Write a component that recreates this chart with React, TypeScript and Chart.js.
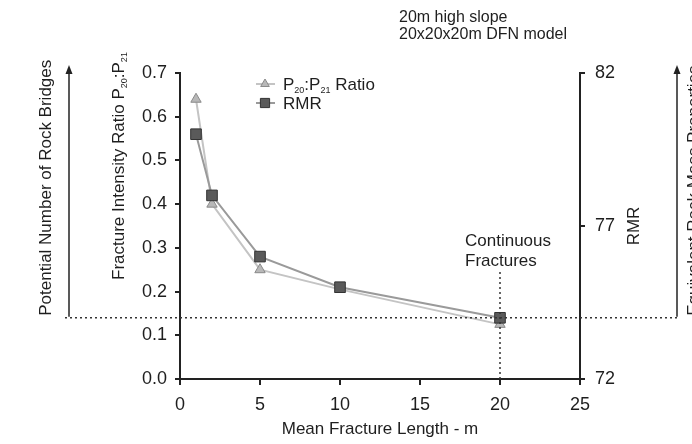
import React, { useEffect, useRef } from "react";
import { Chart, registerables } from "chart.js";

Chart.register(...registerables);

// ---- data ----
const fractureLengths = [1, 2, 5, 10, 20];
const p20p21Ratio = [0.64, 0.4, 0.25, 0.205, 0.125];
const rmrValues = [80.0, 78.0, 76.0, 75.0, 74.0];
const xTickValues = [0, 5, 10, 15, 20, 25];
const ratioTickValues = [0, 0.1, 0.2, 0.3, 0.4, 0.5, 0.6, 0.7];
const rmrTickValues = [72, 77, 82];
const continuousLength = 20;
const continuousRmr = 74;
const noteLines = ["20m high slope", "20x20x20m DFN model"];
const continuousLabel = ["Continuous", "Fractures"];
const xTitle = "Mean Fracture Length - m";
const leftOuterTitle = "Potential Number of Rock Bridges";
const rightOuterTitle = "Equivalent Rock Mass Properties";
const rmrTitle = "RMR";

type Part = { t: string; sub?: boolean };
const ratioTitleParts: Part[] = [
  { t: "Fracture Intensity Ratio P" },
  { t: "20", sub: true },
  { t: ":P" },
  { t: "21", sub: true },
];
const ratioLegendParts: Part[] = [
  { t: "P" },
  { t: "20", sub: true },
  { t: ":P" },
  { t: "21", sub: true },
  { t: " Ratio" },
];

const FONT = "'Liberation Sans', Arial, sans-serif";
const TEXT = "#1e1e1e";
const AXIS = "#222222";

function font(size: number) {
  return `${size}px ${FONT}`;
}

function drawRich(ctx: CanvasRenderingContext2D, parts: Part[], x: number, y: number, size: number, subSize: number, subShift: number) {
  let cx = x;
  ctx.textAlign = "left";
  ctx.textBaseline = "alphabetic";
  for (const p of parts) {
    ctx.font = font(p.sub ? subSize : size);
    ctx.fillText(p.t, cx, y + (p.sub ? subShift : 0));
    cx += ctx.measureText(p.t).width;
  }
}

function arrow(ctx: CanvasRenderingContext2D, x: number, yBottom: number, yTop: number) {
  ctx.save();
  ctx.strokeStyle = AXIS;
  ctx.fillStyle = AXIS;
  ctx.lineWidth = 1.5;
  ctx.beginPath();
  ctx.moveTo(x, yBottom);
  ctx.lineTo(x, yTop + 6);
  ctx.stroke();
  ctx.beginPath();
  ctx.moveTo(x, yTop);
  ctx.lineTo(x - 3.5, yTop + 9);
  ctx.lineTo(x + 3.5, yTop + 9);
  ctx.closePath();
  ctx.fill();
  ctx.restore();
}

function drawMarker(ctx: CanvasRenderingContext2D, style: string, r: number, x: number, y: number) {
  ctx.beginPath();
  if (style === "triangle") {
    ctx.moveTo(x, y - r);
    ctx.lineTo(x + r * 0.866, y + r * 0.5);
    ctx.lineTo(x - r * 0.866, y + r * 0.5);
    ctx.closePath();
  } else {
    const s = r * Math.SQRT1_2;
    ctx.rect(x - s, y - s, 2 * s, 2 * s);
  }
  ctx.fill();
  ctx.stroke();
}

const leftArrowX = 69;
const rightArrowX = 677;

const annotations = {
  id: "annotations",
  afterDatasetsDraw(chart: any) {
    const { ctx, chartArea, scales } = chart;
    const yThr = scales.y2.getPixelForValue(continuousRmr);
    const xCont = scales.x.getPixelForValue(continuousLength);
    ctx.save();
    ctx.strokeStyle = "#333";
    ctx.lineWidth = 1.5;
    ctx.setLineDash([2, 3]);
    ctx.beginPath();
    ctx.moveTo(leftArrowX - 4, yThr);
    ctx.lineTo(rightArrowX, yThr);
    ctx.stroke();
    ctx.beginPath();
    ctx.moveTo(xCont, chartArea.bottom);
    ctx.lineTo(xCont, chartArea.top + 197);
    ctx.stroke();
    ctx.setLineDash([]);
    ctx.restore();
  },
  afterDraw(chart: any) {
    const { ctx, chartArea, scales } = chart;
    const yThr = scales.y2.getPixelForValue(continuousRmr);
    const xCont = scales.x.getPixelForValue(continuousLength);
    const arrowTop = chartArea.top - 8;

    ctx.save();
    arrow(ctx, leftArrowX, yThr - 1, arrowTop);
    arrow(ctx, rightArrowX, yThr - 1, arrowTop);

    ctx.fillStyle = TEXT;

    ctx.save();
    ctx.translate(51, yThr - 2);
    ctx.rotate(-Math.PI / 2);
    ctx.font = font(17);
    ctx.textAlign = "left";
    ctx.textBaseline = "alphabetic";
    ctx.fillText(leftOuterTitle, 0, 0);
    ctx.restore();

    ctx.save();
    ctx.translate(699, yThr - 2);
    ctx.rotate(-Math.PI / 2);
    ctx.font = font(17);
    ctx.textAlign = "left";
    ctx.textBaseline = "alphabetic";
    ctx.fillText(rightOuterTitle, 0, 0);
    ctx.restore();

    ctx.save();
    ctx.translate(124, 280);
    ctx.rotate(-Math.PI / 2);
    drawRich(ctx, ratioTitleParts, 0, 0, 17, 9, 3);
    ctx.restore();

    ctx.save();
    ctx.translate(639, (chartArea.top + chartArea.bottom) / 2);
    ctx.rotate(-Math.PI / 2);
    ctx.font = font(17);
    ctx.textAlign = "center";
    ctx.textBaseline = "alphabetic";
    ctx.fillText(rmrTitle, 0, 0);
    ctx.restore();

    ctx.font = font(16);
    ctx.textAlign = "left";
    ctx.textBaseline = "alphabetic";
    ctx.fillText(noteLines[0], 399, 22);
    ctx.fillText(noteLines[1], 399, 39);

    ctx.font = font(17);
    ctx.fillText(continuousLabel[0], xCont - 35, 246);
    ctx.fillText(continuousLabel[1], xCont - 35, 266);

    const ds = chart.data.datasets;
    const legendRows = [
      { parts: ratioLegendParts, dsIndex: 1, y: 84 },
      { parts: [{ t: "RMR" }] as Part[], dsIndex: 0, y: 103 },
    ];
    for (const row of legendRows) {
      const d = ds[row.dsIndex];
      ctx.save();
      ctx.strokeStyle = d.borderColor;
      ctx.lineWidth = 2;
      ctx.beginPath();
      ctx.moveTo(256, row.y);
      ctx.lineTo(275, row.y);
      ctx.stroke();
      ctx.fillStyle = d.pointBackgroundColor;
      ctx.strokeStyle = d.pointBorderColor;
      ctx.lineWidth = d.pointBorderWidth;
      drawMarker(ctx, d.pointStyle, d.pointRadius - 1, 265, row.y);
      ctx.restore();
      ctx.fillStyle = TEXT;
      drawRich(ctx, row.parts, 283, row.y + 6, 17, 9, 3);
    }
    ctx.restore();
  },
};

export default function App() {
  const ref = useRef<HTMLCanvasElement | null>(null);

  useEffect(() => {
    if (!ref.current) return;
    const chart = new Chart(ref.current, {
      type: "line",
      data: {
        datasets: [
          {
            label: "RMR",
            data: fractureLengths.map((x, i) => ({ x, y: rmrValues[i] })),
            yAxisID: "y2",
            borderColor: "#9a9a9a",
            borderWidth: 2,
            pointStyle: "rect",
            pointRadius: 7.5,
            pointBackgroundColor: "#5a5a5a",
            pointBorderColor: "#333333",
            pointBorderWidth: 1,
            tension: 0,
            order: 0,
          } as any,
          {
            label: "P20:P21 Ratio",
            data: fractureLengths.map((x, i) => ({ x, y: p20p21Ratio[i] })),
            yAxisID: "y",
            borderColor: "#c4c4c4",
            borderWidth: 2,
            pointStyle: "triangle",
            pointRadius: 6,
            pointBackgroundColor: "#b8b8b8",
            pointBorderColor: "#8a8a8a",
            pointBorderWidth: 1,
            tension: 0,
            order: 1,
          } as any,
        ],
      },
      options: {
        animation: false,
        responsive: false,
        maintainAspectRatio: false,
        layout: { padding: { top: 73, left: 0, right: 0, bottom: 0 } },
        plugins: { legend: { display: false }, tooltip: { enabled: false } },
        scales: {
          x: {
            type: "linear",
            min: 0,
            max: 25,
            afterBuildTicks: (s: any) => {
              s.ticks = xTickValues.map((v) => ({ value: v }));
            },
            afterFit: (s: any) => {
              s.height = 65;
            },
            border: { display: true, color: AXIS, width: 2 },
            grid: { display: true, drawOnChartArea: false, drawTicks: true, tickLength: 6, color: AXIS, lineWidth: 2 },
            ticks: { color: TEXT, font: { family: FONT, size: 18 }, padding: 9, maxRotation: 0 },
            title: { display: true, text: xTitle, color: TEXT, font: { family: FONT, size: 17 }, padding: { top: 0, bottom: 4 } },
          },
          y: {
            type: "linear",
            position: "left",
            min: 0,
            max: 0.7,
            afterBuildTicks: (s: any) => {
              s.ticks = ratioTickValues.map((v) => ({ value: v }));
            },
            afterFit: (s: any) => {
              s.width = 180;
            },
            border: { display: true, color: AXIS, width: 2 },
            grid: { display: true, drawOnChartArea: false, drawTicks: true, tickLength: 5, color: AXIS, lineWidth: 2 },
            ticks: {
              color: TEXT,
              font: { family: FONT, size: 18 },
              padding: 8,
              callback: (v: any) => Number(v).toFixed(1),
            },
          },
          y2: {
            type: "linear",
            position: "right",
            min: 72,
            max: 82,
            afterBuildTicks: (s: any) => {
              s.ticks = rmrTickValues.map((v) => ({ value: v }));
            },
            afterFit: (s: any) => {
              s.width = 112;
            },
            border: { display: true, color: AXIS, width: 2 },
            grid: { display: true, drawOnChartArea: false, drawTicks: true, tickLength: 5, color: AXIS, lineWidth: 2 },
            ticks: { color: TEXT, font: { family: FONT, size: 18 }, padding: 10 },
          },
        },
      },
      plugins: [annotations],
    } as any);
    return () => chart.destroy();
  }, []);

  return (
    <div style={{ position: "fixed", left: 0, top: 0, width: 692, height: 444, background: "#ffffff" }}>
      <canvas ref={ref} width={692} height={444} style={{ width: 692, height: 444, display: "block" }} />
    </div>
  );
}
